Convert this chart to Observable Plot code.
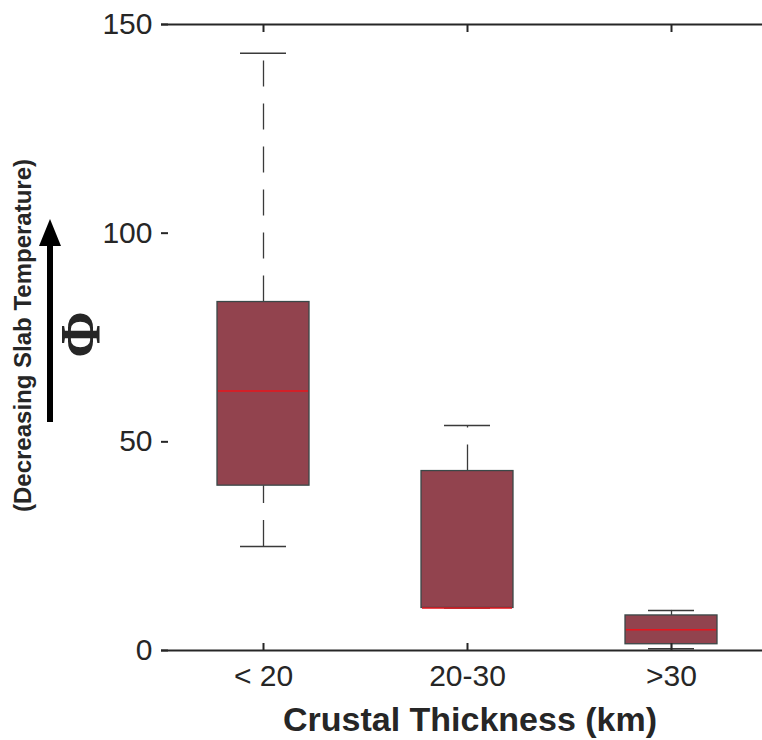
<!DOCTYPE html>
<html><head><meta charset="utf-8">
<script src="https://cdn.jsdelivr.net/npm/d3@7"></script>
<script src="https://cdn.jsdelivr.net/npm/@observablehq/plot@0.6"></script>
<style>html,body{margin:0;padding:0;background:#fff;overflow:hidden}</style>
</head><body><div id="chart"></div>
<script>
const categories = ["< 20", "20-30", ">30"];
const whiskerLow = [24.9, 10.2, 0.4];
const q1 = [39.5, 10.2, 1.5];
const median = [62.2, 10.2, 5.0];
const q3 = [83.5, 43.0, 8.4];
const whiskerHigh = [143.1, 53.9, 9.6];
const yTicks = [0, 50, 100, 150];
const xLabel = "Crustal Thickness (km)";
const yLabel = "(Decreasing Slab Temperature)";
const ySymbol = "Φ";

const boxes = categories.map((c, i) => ({cat: c, lo: whiskerLow[i], q1: q1[i], med: median[i], q3: q3[i], hi: whiskerHigh[i]}));

const ink = "#262626";
const font = "'Liberation Sans', Arial, Helvetica, sans-serif";

const plot = Plot.plot({
  width: 762, height: 740,
  marginLeft: 161, marginTop: 24, marginBottom: 90, marginRight: 0,
  x: {type: "band", domain: categories, range: [161, 773], padding: 0, label: null},
  y: {domain: [0, 150], range: [650, 24], label: null},
  style: {fontFamily: font, color: ink, background: "#fff", overflow: "hidden"},
  marks: [
    Plot.ruleX(boxes, {x: "cat", y1: "q3", y2: "hi", stroke: "#3a3a3a", strokeWidth: 1.3, strokeDasharray: "26,17"}),
    Plot.ruleX(boxes, {x: "cat", y1: "lo", y2: "q1", stroke: "#3a3a3a", strokeWidth: 1.3, strokeDasharray: "26,17"}),
    Plot.tickY(boxes, {x: "cat", y: "hi", insetLeft: 79, insetRight: 79, stroke: "#3a3a3a", strokeWidth: 1.5}),
    Plot.tickY(boxes, {x: "cat", y: "lo", insetLeft: 79, insetRight: 79, stroke: "#3a3a3a", strokeWidth: 1.5}),
    Plot.barY(boxes, {x: "cat", y1: "q1", y2: "q3", insetLeft: 56, insetRight: 56, fill: "#92434e", stroke: "#3a4848", strokeWidth: 1.3}),
    Plot.tickY(boxes, {x: "cat", y: "med", insetLeft: 57, insetRight: 57, stroke: "#e8141c", strokeWidth: 1.5}),
    Plot.ruleY([0, 150], {stroke: ink, strokeWidth: 2}),
    Plot.axisY(yTicks, {anchor: "left", tickSize: 0, tickPadding: 9, fontSize: 30, line: true, stroke: ink, strokeWidth: 2, label: null}),
    Plot.axisY(yTicks, {anchor: "left", tickSize: 7, dx: 7, tickFormat: () => "", strokeWidth: 2, stroke: ink, label: null}),
    Plot.axisX(categories, {anchor: "bottom", tickSize: 0, tickPadding: 14, fontSize: 30, label: null}),
    Plot.axisX(categories, {anchor: "bottom", tickSize: 7, dy: -7, tickFormat: () => "", strokeWidth: 2, stroke: ink, label: null}),
    Plot.axisX(categories, {anchor: "top", tickSize: 7, dy: 7, tickFormat: () => "", strokeWidth: 2, stroke: ink, label: null}),
    Plot.text([xLabel], {frameAnchor: "bottom", textAnchor: "middle", dx: 8, dy: 80, fontSize: 34, fontWeight: "bold", fill: ink}),
    Plot.text([yLabel], {frameAnchor: "left", textAnchor: "middle", rotate: -90, dx: -138, dy: -2, fontSize: 24, fontWeight: "bold", fill: ink}),
    Plot.text([ySymbol], {frameAnchor: "left", textAnchor: "middle", rotate: -90, dx: -79, dy: -3, fontSize: 56, fontWeight: "bold", fontFamily: "'Liberation Serif', 'DejaVu Serif', serif", fill: ink})
  ]
});
document.getElementById("chart").appendChild(plot);

// vertical arrow beside the y-axis label
const svg = d3.select(plot);
const g = svg.append("g").attr("class", "y-arrow");
g.append("line").attr("x1", 50).attr("x2", 50).attr("y1", 422).attr("y2", 240)
  .attr("stroke", "#000").attr("stroke-width", 6);
g.append("path").attr("d", "M50,219 L61,246 L39,246 Z").attr("fill", "#000");
</script>
</body></html>
